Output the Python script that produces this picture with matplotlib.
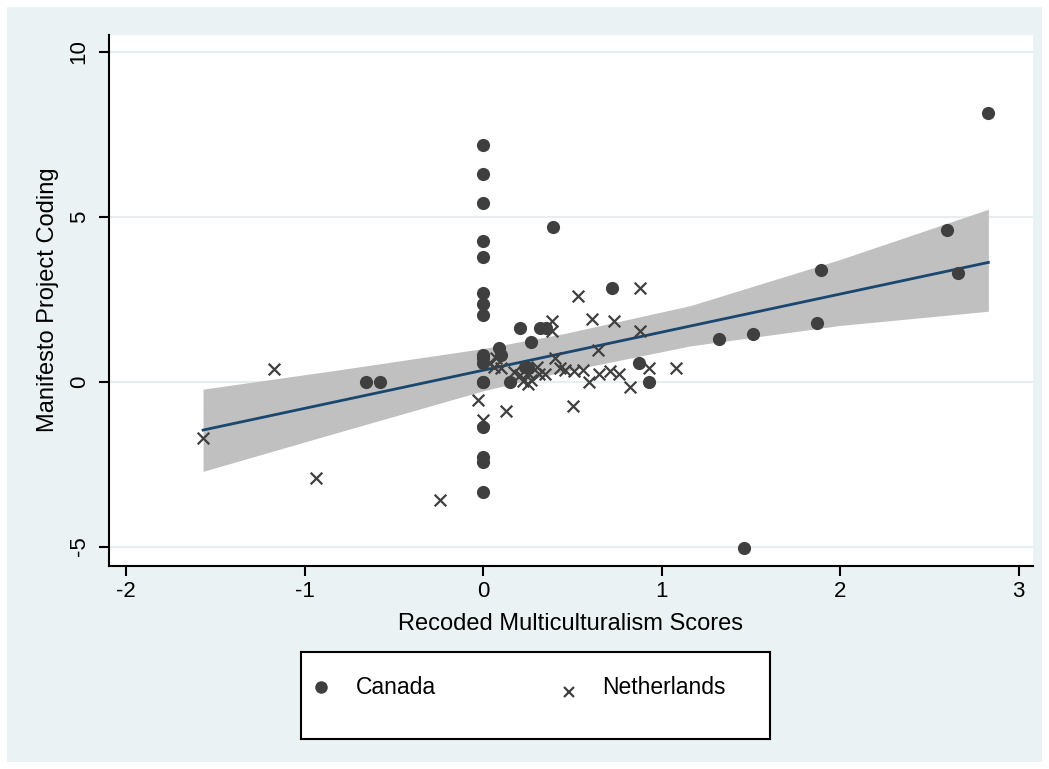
import matplotlib.pyplot as plt
import numpy as np
from matplotlib.patches import Rectangle

plt.rcParams['font.family'] = ['Liberation Sans', 'DejaVu Sans']

# Canada (recoded score, manifesto coding)
can_x = [0, 0, 0, 0, 0, 0, 0, 0, 0, 0, 0, 0, 0, 0, 0, 0, 0,
         -0.66, -0.58, 0.09, 0.10, 0.15, 0.205, 0.233, 0.25, 0.27, 0.32, 0.35,
         0.39, 0.72, 0.87, 0.93, 1.32, 1.46, 1.51, 1.87, 1.89, 2.60, 2.66, 2.83]
can_y = [7.17, 6.29, 5.42, 4.27, 3.78, 2.67, 2.35, 2.02, 0.80, 0.70, 0.55, 0.0, 0.0,
         -1.37, -2.28, -2.43, -3.34,
         0.0, 0.0, 1.03, 0.80, 0.0, 1.61, 0.45, 0.40, 1.21, 1.61, 1.61,
         4.68, 2.82, 0.55, 0.0, 1.28, -5.03, 1.44, 1.76, 3.38, 4.58, 3.30, 8.15]

# Netherlands
ned_x = [-1.57, -1.17, -0.94, -0.24, -0.03, 0.0, 0.03, 0.06, 0.07, 0.10, 0.13,
         0.17, 0.205, 0.22, 0.25, 0.25, 0.27, 0.30, 0.31, 0.345, 0.385, 0.385,
         0.40, 0.43, 0.46, 0.50, 0.51, 0.53, 0.56, 0.59, 0.61, 0.64, 0.65,
         0.71, 0.73, 0.76, 0.82, 0.88, 0.88, 0.93, 1.08]
ned_y = [-1.72, 0.38, -2.93, -3.58, -0.57, -1.18, 0.55, 0.45, 0.70, 0.40, -0.90,
         0.28, 0.20, 0.02, 0.25, -0.08, 0.05, 0.45, 0.22, 0.22, 1.84, 1.54,
         0.70, 0.40, 0.35, -0.75, 0.33, 2.60, 0.35, 0.0, 1.91, 0.95, 0.24,
         0.32, 1.83, 0.23, -0.18, 1.52, 2.82, 0.40, 0.40]

# linear fit with 95% confidence band
fit_x = [-1.57, 2.83]
fit_y = [-1.47, 3.61]
ci_x = [-1.57, -0.84, 0.0, 0.45, 1.16, 2.0, 2.83]
ci_hi = [-0.23, 0.33, 1.00, 1.45, 2.30, 3.70, 5.22]
ci_lo = [-2.72, -1.58, -0.28, 0.30, 1.08, 1.70, 2.13]

xticks = [-2, -1, 0, 1, 2, 3]
yticks = [-5, 0, 5, 10]

W, H = 1049, 769
fig = plt.figure(figsize=(W / 100, H / 100), dpi=100)
fig.patch.set_facecolor('white')
fig.patches.append(Rectangle((7 / W, 7 / H), 1 - 14 / W, 1 - 14 / H,
                             transform=fig.transFigure, facecolor='#eaf2f3',
                             edgecolor='none', zorder=-10))

ax = fig.add_axes([108.5 / W, 1 - 565.7 / H, (1033 - 108.5) / W, (565.7 - 35) / H])
ax.set_facecolor('white')

ax.fill_between(ci_x, ci_lo, ci_hi, color='#c0c0c0', linewidth=0, zorder=1)
ax.plot(fit_x, fit_y, color='#1a476f', linewidth=2.0, zorder=2)
ax.scatter(can_x, can_y, s=90, marker='o', color='#3f3f3f', linewidths=0, zorder=3)
ax.scatter(ned_x, ned_y, s=70, marker='x', color='#3f3f3f', linewidths=1.6, zorder=3)

ax.set_xlim(-2.10, 3.08)
ax.set_ylim(-5.58, 10.5)
ax.set_xticks(xticks)
ax.set_xticklabels([str(t) for t in xticks])
ax.set_yticks(yticks)
ax.set_yticklabels([str(t) for t in yticks], rotation=90, va='center')

ax.yaxis.grid(True, color='#e6eef0', linewidth=1.6)
ax.set_axisbelow(True)

for side in ['top', 'right']:
    ax.spines[side].set_visible(False)
for side in ['left', 'bottom']:
    ax.spines[side].set_linewidth(1.5)
    ax.spines[side].set_color('black')
ax.tick_params(axis='both', direction='out', length=7, width=1.5, labelsize=16)
ax.tick_params(axis='x', pad=4.3)
ax.tick_params(axis='y', pad=6.5)

fig.text(570 / W, 1 - 624 / H, 'Recoded Multiculturalism Scores', ha='center', va='center', fontsize=17)
fig.text(48 / W, 1 - 300 / H, 'Manifesto Project Coding', ha='center', va='center',
         rotation=90, fontsize=17)

# legend box
lx0, lx1, ly0, ly1 = 301, 770, 652, 739
lax = fig.add_axes([lx0 / W, 1 - ly1 / H, (lx1 - lx0) / W, (ly1 - ly0) / H])
lax.set_xlim(lx0, lx1)
lax.set_ylim(ly1, ly0)
lax.set_xticks([])
lax.set_yticks([])
lax.set_facecolor('white')
for sp in lax.spines.values():
    sp.set_linewidth(1.5)
    sp.set_color('black')
lax.plot([321], [687], 'o', ms=9, color='#3f3f3f', mew=0)
lax.text(356, 687, 'Canada', ha='left', va='center', fontsize=16.5)
lax.plot([569], [692], 'x', ms=7, color='#3f3f3f', mew=1.6)
lax.text(602, 687, 'Netherlands', ha='left', va='center', fontsize=16.5)

fig.savefig('out.png', dpi=100)
